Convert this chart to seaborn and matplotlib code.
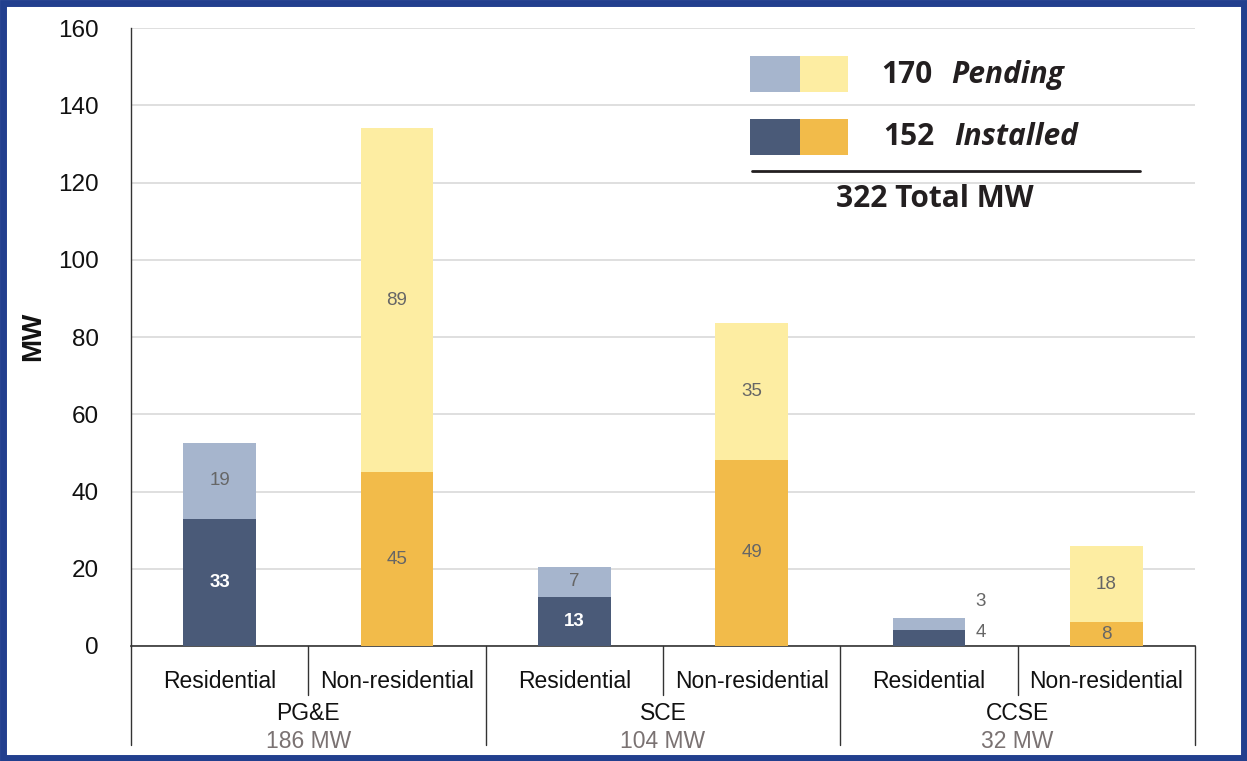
import matplotlib
matplotlib.use("Agg")
import matplotlib.pyplot as plt
import seaborn as sns
import pandas as pd
import numpy as np
from matplotlib.patches import Rectangle
from matplotlib.lines import Line2D

# ---- data ----
utilities = ["PG&E", "SCE", "CCSE"]
utility_totals = ["186 MW", "104 MW", "32 MW"]
sectors = ["Residential", "Non-residential"]
installed = [32.9, 45.0, 12.7, 48.2, 4.1, 6.2]
pending = [19.7, 89.1, 7.8, 35.4, 3.1, 19.7]
installed_labels = ["33", "45", "13", "49", "4", "8"]
pending_labels = ["19", "89", "7", "35", "3", "18"]
legend_pending = "170"
legend_installed = "152"
legend_total = "322 Total MW"
yticks = [0, 20, 40, 60, 80, 100, 120, 140, 160]

# colours
res_inst, res_pend = "#4a5a78", "#a6b5cd"
non_inst, non_pend = "#f2bb4a", "#fdeda2"

keys = [f"{u}|{s}" for u in utilities for s in sectors]
totals = [i + p for i, p in zip(installed, pending)]
df = pd.DataFrame({"key": keys, "installed": installed, "total": totals})
pal_pend = {k: (res_pend if k.split("|")[1] == "Residential" else non_pend) for k in keys}
pal_inst = {k: (res_inst if k.split("|")[1] == "Residential" else non_inst) for k in keys}

W, H = 1247, 761
fig = plt.figure(figsize=(W / 100, H / 100), dpi=100)
sns.set_style("white")
plt.rcParams["font.family"] = ["Liberation Sans", "DejaVu Sans"]
ax = fig.add_axes([131 / W, 1 - 646 / H, (1195 - 131) / W, (646 - 28) / H])

sns.barplot(data=df, x="key", y="total", hue="key", palette=pal_pend, order=keys,
            width=0.41, legend=False, ax=ax, saturation=1, linewidth=0, zorder=2)
sns.barplot(data=df, x="key", y="installed", hue="key", palette=pal_inst, order=keys,
            width=0.41, legend=False, ax=ax, saturation=1, linewidth=0, zorder=3)

ax.set_xlim(-0.5, 5.5)
ax.set_ylim(0, 160)
ax.set_yticks(yticks)
ax.set_yticklabels([str(t) for t in yticks], fontsize=17.5, color="#111111")
ax.yaxis.grid(True, color="#d9d9d9", linewidth=1.2, zorder=0)
ax.set_axisbelow(True)
for side in ["top", "right"]:
    ax.spines[side].set_visible(False)
ax.spines["left"].set_color("#333333")
ax.spines["bottom"].set_color("#333333")
ax.spines["left"].set_linewidth(1)
ax.spines["bottom"].set_linewidth(1.2)
ax.tick_params(axis="y", length=9, width=1, color="#555555", pad=14, direction="out")
ax.tick_params(axis="x", length=0)
ax.set_xticks(range(6))
ax.set_xticklabels([s for u in utilities for s in sectors], fontsize=16.5, color="#111111")
ax.tick_params(axis="x", pad=17)
ax.set_xlabel("")
ax.set_ylabel("")
fig.text(33 / W, 1 - 336 / H, "MW", rotation=90, fontsize=20, fontweight="bold",
         ha="center", va="center", color="#111111")

# hierarchical dividers
trans = ax.get_xaxis_transform()
for xv in [0.5, 2.5, 4.5]:
    ax.add_line(Line2D([xv, xv], [0, -49 / 618], transform=trans, color="#333333", lw=1, clip_on=False))
for xv in [-0.5, 1.5, 3.5, 5.5]:
    ax.add_line(Line2D([xv, xv], [0, -99 / 618], transform=trans, color="#333333", lw=1, clip_on=False))
for gi, (u, t) in enumerate(zip(utilities, utility_totals)):
    xc = gi * 2 + 0.5
    ax.text(xc, -68 / 618, u, transform=trans, ha="center", va="center", fontsize=16.5, color="#111111")
    ax.text(xc, -95 / 618, t, transform=trans, ha="center", va="center", fontsize=16.5, color="#7a7272")

# value labels
fs = 13.5
for i in range(6):
    is_res = (i % 2 == 0)
    inst, tot = installed[i], totals[i]
    if i == 4:
        ax.text(i + 0.29, 3.6, installed_labels[i], ha="center", va="center", fontsize=fs, color="#666666")
        ax.text(i + 0.29, 11.6, pending_labels[i], ha="center", va="center", fontsize=fs, color="#666666")
        continue
    if is_res:
        ax.text(i, inst / 2, installed_labels[i], ha="center", va="center", fontsize=fs,
                color="white", fontweight="bold", zorder=5)
    else:
        ax.text(i, inst / 2, installed_labels[i], ha="center", va="center", fontsize=fs,
                color="#666666", zorder=5)
    ax.text(i, (inst + tot) / 2, pending_labels[i], ha="center", va="center", fontsize=fs,
            color="#666666", zorder=5)

# custom legend (figure pixel coords)
def fr(x0, y0, x1, y1, c):
    fig.patches.append(Rectangle((x0 / W, 1 - y1 / H), (x1 - x0) / W, (y1 - y0) / H,
                                 transform=fig.transFigure, facecolor=c, edgecolor="none", zorder=5))

fr(750, 56, 800, 92, res_pend)
fr(800, 56, 848, 92, non_pend)
fr(750, 119, 800, 155, res_inst)
fr(800, 119, 848, 155, non_inst)
lf = ["Open Sans", "DejaVu Sans"]
lfs = 21.5
fig.text(881 / W, 1 - 75 / H, legend_pending, fontsize=lfs, fontweight="bold", family=lf,
         ha="left", va="center", color="#231f20")
fig.text(951 / W, 1 - 75 / H, "Pending", fontsize=lfs, fontweight="bold", style="italic", family=lf,
         ha="left", va="center", color="#231f20")
fig.text(883 / W, 1 - 137 / H, legend_installed, fontsize=lfs, fontweight="bold", family=lf,
         ha="left", va="center", color="#231f20")
fig.text(954 / W, 1 - 137 / H, "Installed", fontsize=lfs, fontweight="bold", style="italic", family=lf,
         ha="left", va="center", color="#231f20")
fig.add_artist(Line2D([752 / W, 1140 / W], [1 - 171 / H, 1 - 171 / H], transform=fig.transFigure,
                      color="#231f20", lw=2))
fig.text(935 / W, 1 - 199 / H, legend_total, fontsize=lfs, fontweight="bold", family=lf,
         ha="center", va="center", color="#231f20")

# blue border
fig.patches.append(Rectangle((0.0025, 0.004), 0.995, 0.992, transform=fig.transFigure,
                             facecolor="none", edgecolor="#223f8e", lw=5, zorder=10))

fig.savefig("out.png", dpi=100)
